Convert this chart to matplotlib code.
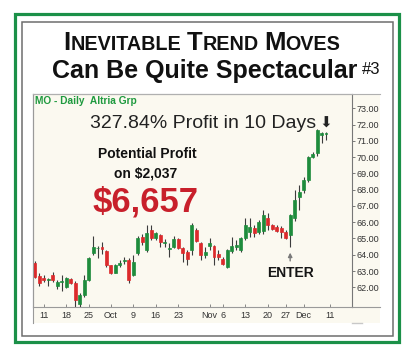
import matplotlib
matplotlib.use("Agg")
import matplotlib.pyplot as plt
from matplotlib.patches import Rectangle
from matplotlib.lines import Line2D

plt.rcParams['font.family'] = ['Liberation Sans', 'DejaVu Sans']

# MO daily OHLC, Sep 7 - Dec 8
opens = [63.50, 62.70, 62.55, 62.42, 62.73, 62.08, 62.35, 62.00, 62.50, 62.28,
         60.98, 61.52, 62.44, 64.10, 64.40, 64.45, 64.20, 63.35, 62.90, 63.37,
         63.60, 63.67, 62.75, 64.10, 65.10, 64.30, 65.52, 65.00, 65.20, 64.72,
         64.35, 64.50, 64.97, 64.40, 64.18, 64.29, 65.52, 64.75, 63.98, 64.55,
         64.56, 64.04, 63.72, 63.27, 64.25, 64.45, 64.29, 65.01, 65.42, 65.62,
         65.42, 65.48, 66.25, 65.83, 65.72, 65.62, 65.42, 65.21, 66.24, 67.55,
         67.95, 68.60, 69.98, 70.23, 71.36, 71.45]
highs = [63.60, 62.85, 62.75, 62.55, 62.95, 62.45, 62.75, 62.65, 62.55, 62.40,
         61.65, 62.75, 63.85, 65.15, 64.55, 64.80, 64.30, 63.40, 63.42, 63.67,
         63.85, 63.77, 63.98, 65.15, 65.30, 65.83, 65.83, 65.40, 65.30, 64.95,
         64.70, 65.15, 65.03, 64.50, 64.29, 65.93, 65.64, 64.80, 64.50, 65.00,
         64.60, 64.29, 63.88, 64.33, 65.10, 64.90, 65.11, 66.24, 66.24, 65.85,
         66.15, 66.75, 66.55, 65.90, 65.80, 65.75, 65.50, 66.50, 68.00, 68.30,
         68.75, 70.10, 70.33, 71.75, 71.53, 71.53]
lows = [62.55, 62.05, 62.35, 62.10, 62.35, 61.90, 61.75, 61.95, 62.20, 60.80,
        60.80, 61.40, 62.38, 63.98, 63.80, 64.05, 63.25, 62.80, 62.88, 63.25,
        63.45, 62.28, 62.70, 63.98, 64.60, 64.18, 64.91, 64.90, 64.50, 64.50,
        63.88, 64.42, 64.36, 63.57, 63.37, 63.98, 64.78, 63.67, 63.78, 64.29,
        63.37, 63.67, 63.37, 63.20, 64.10, 64.29, 64.19, 64.91, 65.10, 65.10,
        65.30, 65.30, 65.50, 65.50, 65.40, 65.01, 64.95, 64.49, 66.10, 66.75,
        67.80, 68.50, 69.93, 70.10, 70.85, 71.05]
closes = [62.65, 62.25, 62.45, 62.48, 62.45, 62.30, 62.40, 62.55, 62.25, 61.22,
          61.50, 62.44, 63.80, 64.50, 64.42, 64.37, 63.37, 62.85, 63.37, 63.50,
          63.68, 62.44, 63.57, 65.00, 64.80, 65.35, 65.03, 65.33, 64.80, 64.80,
          64.40, 64.97, 64.43, 64.10, 63.72, 65.83, 64.86, 63.98, 64.18, 64.70,
          63.88, 63.88, 63.41, 64.29, 64.55, 64.60, 65.01, 65.83, 65.72, 65.32,
          66.03, 66.44, 65.80, 65.56, 65.46, 65.42, 65.01, 66.44, 67.36, 67.83,
          68.60, 70.03, 70.17, 71.67, 71.50, 71.48]

# x ticks (trading-day index) and their labels
tick_pos = [2, 7, 12, 17, 22, 27, 32, 39, 42, 47, 52, 56, 60, 66]
tick_lab = ['11', '18', '25', 'Oct', '9', '16', '23', 'Nov', '6', '13', '20', '27', 'Dec', '11']
price_ticks = [62, 63, 64, 65, 66, 67, 68, 69, 70, 71, 72, 73]
enter_day = 57

W, H = 413, 358
cream = '#fbf9f0'
green = '#1e8c3c'
red = '#dc2a2c'

fig = plt.figure(figsize=(W / 100, H / 100), dpi=100)


def fx(x):
    return x / W


def fy(y):
    return 1 - y / H


def ftext(x, y, s, **kw):
    return fig.text(fx(x), fy(y), s, **kw)


# borders
fig.add_artist(Rectangle((fx(15), fy(342)), (399 - 15) / W, (342 - 14) / H,
                         fill=False, ec='#1b9048', lw=2.3, transform=fig.transFigure))
fig.add_artist(Rectangle((fx(22), fy(335.5)), (392.5 - 22) / W, (335.5 - 22) / H,
                         fill=False, ec='#6e6e6e', lw=1.1, transform=fig.transFigure))
# chart panel background
fig.add_artist(Rectangle((fx(33), fy(322.5)), (380 - 33) / W, (322.5 - 94) / H,
                         fc=cream, ec='none', transform=fig.transFigure, zorder=0))
fig.add_artist(Line2D([fx(33), fx(33)], [fy(94), fy(322.5)], color='#9a9a9a', lw=0.8,
                      transform=fig.transFigure))
fig.add_artist(Line2D([fx(33), fx(380)], [fy(94), fy(94)], color='#b0b0b0', lw=0.8,
                      transform=fig.transFigure))
fig.add_artist(Line2D([fx(352), fx(380)], [fy(307.3), fy(307.3)], color='#9a9a9a', lw=0.8,
                      transform=fig.transFigure))
fig.add_artist(Line2D([fx(352), fx(362)], [fy(322.5), fy(322.5)], color='#c8c8c8', lw=1.0,
                      transform=fig.transFigure))

ax = fig.add_axes([fx(33), fy(307.3), (352 - 33) / W, (307.3 - 94) / H])
ax.set_facecolor(cream)

# candles
days = list(range(len(opens)))
cols = [green if c >= o else red for o, c in zip(opens, closes)]
ax.vlines(days, lows, highs, color='#3c3c3c', lw=0.8, zorder=2)
ax.bar(days, [c - o for o, c in zip(opens, closes)], bottom=opens, width=0.66,
       color=cols, edgecolor=cols, linewidth=0.5, zorder=3)

ax.set_xlim(-0.4, 70.8)
ax.set_ylim(60.77, 73.88)

ax.set_xticks(tick_pos)
ax.set_xticklabels(tick_lab)
ax.set_yticks(price_ticks)
ax.set_yticklabels([f"{v:.2f}" for v in price_ticks])
ax.yaxis.tick_right()
ax.tick_params(axis='x', direction='in', length=2, width=0.6, color='#777',
               labelsize=6.5, labelcolor='#333', pad=3)
ax.tick_params(axis='y', direction='out', length=2.2, width=0.6, color='#666',
               labelsize=6.5, labelcolor='#333', pad=0.8)
for side in ['left', 'top', 'bottom']:
    ax.spines[side].set_color('#9a9a9a')
    ax.spines[side].set_linewidth(0.8)
ax.spines['right'].set_color('#777')
ax.spines['right'].set_linewidth(0.8)

# ENTER marker
ax.annotate('', xy=(enter_day, 64.3), xytext=(enter_day, 63.45),
            arrowprops=dict(arrowstyle='-|>', color='#7a7a7a', lw=1.0, mutation_scale=6))
ax.text(enter_day, 62.62, 'ENTER', ha='center', va='baseline', fontsize=10,
        fontweight='bold', color='#151515')

# texts in chart
ftext(35, 104.5, 'MO - Daily  Altria Grp', fontsize=7.3, fontweight='bold', color='#1f9a3f')
ftext(90, 127.5, '327.84% Profit in 10 Days', fontsize=14, color='#222222')
ftext(326, 127.5, '\u2b07', fontsize=11, ha='center', va='baseline', color='#222222',
      family=['DejaVu Sans'])
ftext(147, 158.3, 'Potential Profit', fontsize=10, fontweight='bold', ha='center',
      color='#111111')
ftext(146, 177.3, r'on \$2,037', fontsize=10, fontweight='bold', ha='center', color='#111111')
ftext(146, 211.5, r'\$6,657', fontsize=25, fontweight='bold', ha='center', color='#c8202b')

# title in small caps
renderer = fig.canvas.get_renderer()
pieces = []
for word in ['INEVITABLE', 'TREND', 'MOVES']:
    pieces.append((word[0], 18.5))
    pieces.append((word[1:], 14.2))
    pieces.append((None, 14.2))
pieces = pieces[:-1]
texts = []
total = 0
for s, size in pieces:
    if s is None:
        gap = 0.278 * size * 100 / 72
        texts.append((None, gap))
        total += gap
        continue
    t = ftext(0, 50, s, fontsize=size, fontweight='bold', color='#111111', va='baseline')
    w = t.get_window_extent(renderer).width
    texts.append((t, w))
    total += w
x = 202 - total / 2
for t, w in texts:
    if t is not None:
        t.set_position((fx(x), fy(50)))
    x += w

ftext(52, 78, 'Can Be Quite Spectacular', fontsize=18, fontweight='bold', color='#111111',
      va='baseline')
ftext(362, 74, '#3', fontsize=12, color='#111111', va='baseline')

fig.savefig('out.png', dpi=100)
